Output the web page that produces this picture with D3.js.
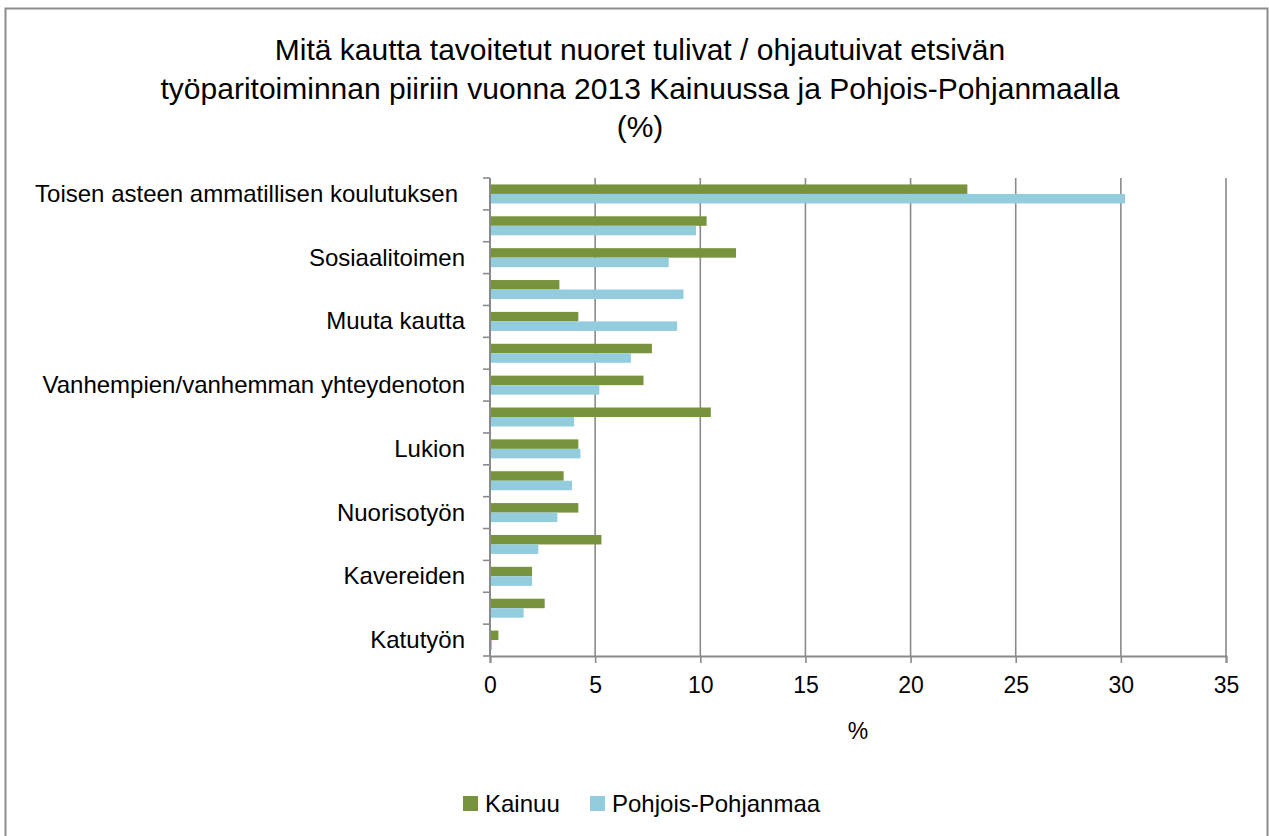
<!DOCTYPE html>
<html><head><meta charset="utf-8">
<script src="https://cdn.jsdelivr.net/npm/d3@7"></script>
<style>
body{margin:0;background:#fff;}
text{fill:#000;}
</style></head>
<body>
<svg id="chart" width="1269" height="836"></svg>
<script>
const categories = [
  "Toisen asteen ammatillisen koulutuksen", "", "Sosiaalitoimen", "", "Muuta kautta", "",
  "Vanhempien/vanhemman yhteydenoton", "", "Lukion", "", "Nuorisotyön", "", "Kavereiden", "", "Katutyön"
];
const seriesNames = ["Kainuu", "Pohjois-Pohjanmaa"];
const kainuu = [22.7, 10.3, 11.7, 3.3, 4.2, 7.7, 7.3, 10.5, 4.2, 3.5, 4.2, 5.3, 2.0, 2.6, 0.4];
const pohjois = [30.2, 9.8, 8.5, 9.2, 8.9, 6.7, 5.2, 4.0, 4.3, 3.9, 3.2, 2.3, 2.0, 1.6, 0.1];
const xTicks = [0, 5, 10, 15, 20, 25, 30, 35];
const colors = ["#77933C", "#93CDDD"];
const titleLines = ["Mitä kautta tavoitetut nuoret tulivat / ohjautuivat etsivän",
  "työparitoiminnan piiriin vuonna 2013 Kainuussa ja Pohjois-Pohjanmaalla", "(%)"];

const svg = d3.select("#chart");
const font = "'Liberation Sans', Arial, sans-serif";

// chart frame
svg.append("path").attr("d", "M5.5,840 V8.5 H1267.5 V840")
  .attr("fill", "none").attr("stroke", "#8c8c8c").attr("stroke-width", 2);

const pLeft = 490, pRight = 1226, pTop = 178, pBottom = 656;
const x = d3.scaleLinear().domain([0, 35]).range([pLeft, pRight]);
const idx = d3.range(categories.length);
const y = d3.scaleBand().domain(idx).range([pTop, pBottom]);
const inner = d3.scaleBand().domain([0, 1]).range([0, 19]);
const barOff = (y.bandwidth() - 19) / 2;

// title
svg.append("text").attr("x", 640).attr("text-anchor", "middle")
  .style("font-family", font)
  .style("font-size", "30px")
  .selectAll("tspan").data(titleLines).join("tspan")
  .attr("x", 640).attr("y", (d, i) => 60 + i * 38.5).text(d => d);

// gridlines
svg.append("g").selectAll("line").data(xTicks.slice(1)).join("line")
  .attr("x1", d => x(d)).attr("x2", d => x(d)).attr("y1", pTop).attr("y2", pBottom)
  .attr("stroke", "#8a8a8a").attr("stroke-width", 1.6);

// bars
const data = [kainuu, pohjois];
data.forEach((vals, s) => {
  svg.append("g").selectAll("rect").data(vals).join("rect")
    .attr("x", x(0))
    .attr("y", (d, i) => y(i) + barOff + inner(s))
    .attr("width", d => x(d) - x(0))
    .attr("height", inner.bandwidth())
    .attr("fill", colors[s]);
});

// x axis
const xAxis = svg.append("g").attr("transform", `translate(0,${pBottom})`)
  .call(d3.axisBottom(x).tickValues(xTicks).tickSize(7).tickPadding(14));
xAxis.select(".domain").attr("stroke", "#8a8a8a").attr("stroke-width", 2);
xAxis.selectAll(".tick line").attr("stroke", "#8a8a8a").attr("stroke-width", 1.6);
xAxis.selectAll("text").style("font-family", font).style("font-size", "23px").attr("fill", "#000");

// y axis
const yAxis = svg.append("g").attr("transform", `translate(${pLeft},0)`);
yAxis.append("line").attr("x1", 0).attr("x2", 0).attr("y1", pTop).attr("y2", pBottom)
  .attr("stroke", "#8a8a8a").attr("stroke-width", 2);
yAxis.selectAll("line.t").data(d3.range(categories.length + 1)).join("line").attr("class", "t")
  .attr("x1", -7).attr("x2", 0)
  .attr("y1", d => pTop + d * y.step()).attr("y2", d => pTop + d * y.step())
  .attr("stroke", "#8a8a8a").attr("stroke-width", 1.6);
yAxis.selectAll("text").data(idx.filter(i => categories[i] !== "")).join("text")
  .attr("x", i => i === 0 ? -32 : -25).attr("y", i => y(i) + y.bandwidth() / 2 + 8)
  .attr("text-anchor", "end")
  .style("font-family", font).style("font-size", "24px")
  .text(i => categories[i]);

// axis title
svg.append("text").attr("x", x(17.5)).attr("y", 739).attr("text-anchor", "middle")
  .style("font-family", font).style("font-size", "23px").text("%");

// legend
const legend = svg.append("g").attr("transform", "translate(463,796)");
const legX = [0, 127];
seriesNames.forEach((n, i) => {
  legend.append("rect").attr("x", legX[i]).attr("y", 0).attr("width", 15).attr("height", 15).attr("fill", colors[i]);
  legend.append("text").attr("x", legX[i] + 22).attr("y", 16)
    .style("font-family", font).style("font-size", "24px").text(n);
});
</script>
</body></html>
